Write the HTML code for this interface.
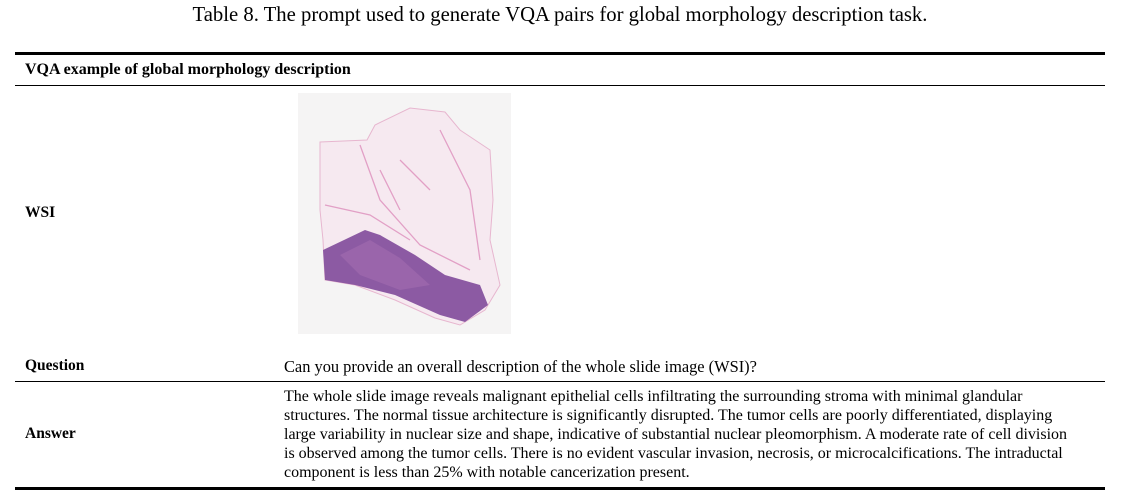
<!DOCTYPE html>
<html><head><meta charset="utf-8"><style>
body{margin:0;width:1125px;height:504px;background:#fff;position:relative;font-family:"Liberation Serif",serif;color:#000;overflow:hidden}
.a{position:absolute;white-space:nowrap}
.rule{position:absolute;left:15px;width:1090px;background:#000}
.b{font-weight:bold;font-size:15.5px}
.t{font-size:16px}
</style></head><body>
<div class="a" style="left:0;width:1120px;text-align:center;top:4px;font-size:20.7px">Table 8. The prompt used to generate VQA pairs for global morphology description task.</div>
<div class="rule" style="top:52px;height:3px"></div>
<div class="a b" style="left:25px;top:61px;font-size:16px">VQA example of global morphology description</div>
<div class="rule" style="top:85px;height:1px"></div>
<div class="a b" style="left:25px;top:204px">WSI</div>
<svg style="position:absolute;left:298px;top:93px" width="213" height="241" viewBox="298 93 213 241">
<rect x="298" y="93" width="213" height="241" fill="#f5f4f4"/>
<polygon fill="#f6e9f0" stroke="#e7b6cf" stroke-width="1" points="320,142 367,140 375,125 410,108 445,112 460,130 490,150 493,200 490,240 500,285 485,310 460,325 435,318 395,300 355,285 325,280 323,240 320,210"/>
<path d="M325,205 L370,215 L410,240 M360,145 L380,200 L420,245 L470,270 M400,160 L430,190 M440,130 L470,190 L480,260 M380,170 L400,210" stroke="#e2a0c6" stroke-width="1.3" fill="none"/>
<polygon fill="#8c5aa3" points="323,250 365,230 380,235 415,255 445,275 480,285 488,305 465,322 440,315 395,295 355,285 325,280"/>
<polygon fill="#a46cb0" opacity=".6" points="340,255 370,240 400,258 430,285 400,290 360,275"/>
</svg>
<div class="a b" style="left:25px;top:357px">Question</div>
<div class="a t" style="left:284px;top:357px;font-size:16.4px">Can you provide an overall description of the whole slide image (WSI)?</div>
<div class="rule" style="top:381px;height:1px"></div>
<div class="a b" style="left:25px;top:425px">Answer</div>
<div class="a t" style="left:284px;top:387px;line-height:19px">The whole slide image reveals malignant epithelial cells infiltrating the surrounding stroma with minimal glandular<br>structures. The normal tissue architecture is significantly disrupted. The tumor cells are poorly differentiated, displaying<br>large variability in nuclear size and shape, indicative of substantial nuclear pleomorphism. A moderate rate of cell division<br>is observed among the tumor cells. There is no evident vascular invasion, necrosis, or microcalcifications. The intraductal<br>component is less than 25% with notable cancerization present.</div>
<div class="rule" style="top:487px;height:3px"></div>
</body></html>
